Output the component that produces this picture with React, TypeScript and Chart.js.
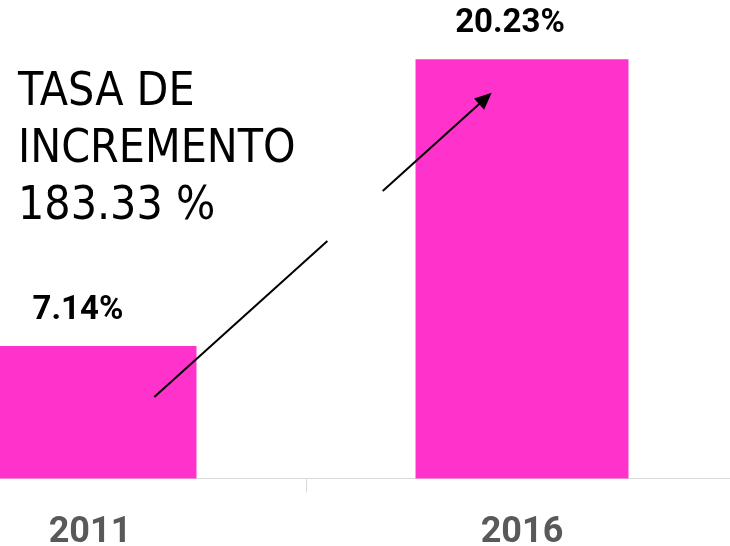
import React, { useEffect, useRef } from "react";
import { Chart, registerables } from "chart.js";

Chart.register(...registerables);

const categories = ["2011", "2016"];
const values = [7.14, 20.23];
const valueLabels = ["7.14%", "20.23%"];
const annotationLines = ["TASA DE", "INCREMENTO", "183.33 %"];

const BAR_COLOR = "#FF33CC";
const Y_MIN = 1.1;
const Y_MAX = 22.94;

export default function App() {
  const ref = useRef<HTMLCanvasElement>(null);

  useEffect(() => {
    const canvas = ref.current!;
    const overlay = {
      id: "overlay",
      afterDatasetsDraw(chart: any) {
        const ctx = chart.ctx as CanvasRenderingContext2D;
        const bars = chart.getDatasetMeta(0).data as any[];
        const area = chart.chartArea;
        ctx.save();

        // value labels above bars
        ctx.font = "bold 33px Roboto";
        ctx.fillStyle = "#000000";
        ctx.textAlign = "center";
        ctx.textBaseline = "alphabetic";
        bars.forEach((b, i) => ctx.fillText(valueLabels[i], b.x - 12, b.y - 27));

        // annotation text
        const x0 = chart.scales.x.getPixelForValue(0) - 72;
        ctx.font = '46px "DejaVu Sans Condensed", "DejaVu Sans", sans-serif';
        ctx.textAlign = "left";
        annotationLines.forEach((t, i) => ctx.fillText(t, x0, area.top + 105 + 57 * i));

        // arrow from bar 1 to bar 2
        const sx = bars[0].x + 64.3;
        const sy = bars[0].y + 51;
        const ex = bars[1].x - 30.3;
        const ey = bars[1].y + 33.4;
        const dx = ex - sx;
        const dy = ey - sy;
        const len = Math.hypot(dx, dy);
        const ux = dx / len;
        const uy = dy / len;
        const headLen = 17;
        const headHalf = 7.5;
        const pt = (t: number) => [sx + dx * t, sy + dy * t];
        const tEnd = 1 - (headLen - 2) / len;
        ctx.strokeStyle = "#000000";
        ctx.lineWidth = 2;
        ctx.lineCap = "butt";
        const seg = (a: number, b: number) => {
          const [ax, ay] = pt(a);
          const [bx, by] = pt(b);
          ctx.beginPath();
          ctx.moveTo(ax, ay);
          ctx.lineTo(bx, by);
          ctx.stroke();
        };
        seg(0, 0.513);
        seg(0.677, tEnd);
        ctx.beginPath();
        ctx.moveTo(ex, ey);
        ctx.lineTo(ex - ux * headLen - uy * headHalf, ey - uy * headLen + ux * headHalf);
        ctx.lineTo(ex - ux * headLen + uy * headHalf, ey - uy * headLen - ux * headHalf);
        ctx.closePath();
        ctx.fillStyle = "#000000";
        ctx.fill();
        ctx.restore();
      },
    };

    const chart = new Chart(canvas, {
      type: "bar",
      data: {
        labels: categories,
        datasets: [
          {
            data: values,
            backgroundColor: BAR_COLOR,
            borderWidth: 0,
            barPercentage: 0.493,
            categoryPercentage: 1,
          },
        ],
      },
      options: {
        responsive: false,
        animation: false,
        layout: { padding: 0 },
        plugins: {
          legend: { display: false },
          tooltip: { enabled: false },
        },
        scales: {
          x: {
            offset: true,
            grid: {
              display: true,
              drawOnChartArea: false,
              offset: true,
              tickLength: 14,
              color: "#d9d9d9",
            },
            border: { display: true, color: "#d9d9d9", width: 1 },
            ticks: {
              color: "#595959",
              padding: 24.6,
              font: { family: "Roboto", weight: "bold", size: 36, lineHeight: 0.9 },
            },
          },
          y: {
            display: false,
            min: Y_MIN,
            max: Y_MAX,
          },
        },
      },
      plugins: [overlay],
    });
    return () => chart.destroy();
  }, []);

  return (
    <div
      style={{
        position: "absolute",
        left: 0,
        top: 0,
        width: 730,
        height: 546,
        overflow: "hidden",
        background: "#ffffff",
      }}
    >
      <canvas
        ref={ref}
        width={864}
        height={574}
        style={{ position: "absolute", left: -126, top: 0, display: "block" }}
      />
    </div>
  );
}
